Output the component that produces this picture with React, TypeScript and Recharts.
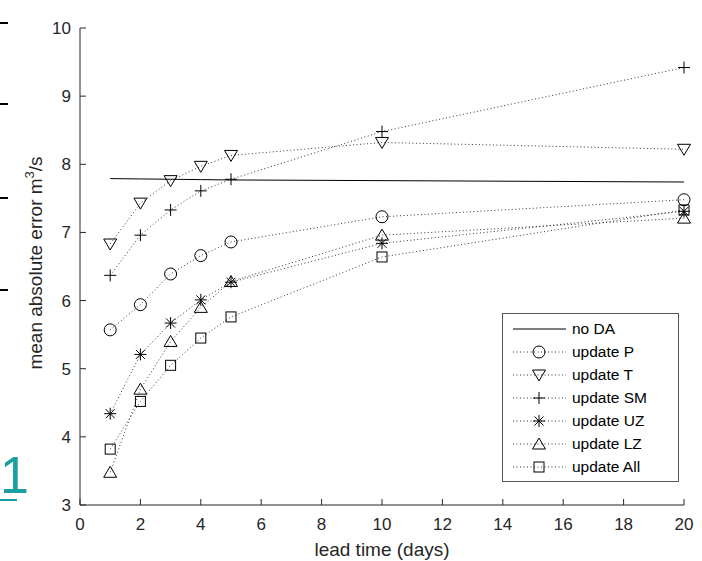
import React from 'react';
import { LineChart, Line, XAxis, YAxis, Legend } from 'recharts';

// lead times (days) and mean absolute error (m3/s) per experiment
const leadDays = [1, 2, 3, 4, 5, 10, 20];
const noDA = [7.79, 7.785, 7.78, 7.775, 7.77, 7.76, 7.74];
const updateP = [5.57, 5.94, 6.39, 6.66, 6.86, 7.23, 7.48];
const updateT = [6.83, 7.43, 7.76, 7.97, 8.13, 8.32, 8.22];
const updateSM = [6.37, 6.96, 7.33, 7.61, 7.78, 8.48, 9.42];
const updateUZ = [4.34, 5.21, 5.67, 6.01, 6.27, 6.84, 7.31];
const updateLZ = [3.48, 4.7, 5.4, 5.9, 6.28, 6.96, 7.21];
const updateAll = [3.82, 4.52, 5.05, 5.45, 5.76, 6.64, 7.33];

const xTicks = [0, 2, 4, 6, 8, 10, 12, 14, 16, 18, 20];
const yTicks = [3, 4, 5, 6, 7, 8, 9, 10];

type MarkerKind = 'none' | 'circle' | 'triDown' | 'plus' | 'star' | 'triUp' | 'square';

const series: { key: string; name: string; marker: MarkerKind; values: number[] }[] = [
    { key: 'noDA', name: 'no DA', marker: 'none', values: noDA },
    { key: 'updateP', name: 'update P', marker: 'circle', values: updateP },
    { key: 'updateT', name: 'update T', marker: 'triDown', values: updateT },
    { key: 'updateSM', name: 'update SM', marker: 'plus', values: updateSM },
    { key: 'updateUZ', name: 'update UZ', marker: 'star', values: updateUZ },
    { key: 'updateLZ', name: 'update LZ', marker: 'triUp', values: updateLZ },
    { key: 'updateAll', name: 'update All', marker: 'square', values: updateAll },
];

const data = leadDays.map((day, i) => {
    const row: Record<string, number> = { day };
    series.forEach(s => { row[s.key] = s.values[i]; });
    return row;
});

const FONT = '"Liberation Sans", Arial, Helvetica, sans-serif';
const AXIS = '#262626';
const DOTTED = '1 2.5';
const DOT_COLOR = '#333';

const Marker = ({ cx, cy, kind }: { cx: number; cy: number; kind: MarkerKind }) => {
    const s = { fill: 'none', stroke: '#000', strokeWidth: 1 };
    switch (kind) {
        case 'circle':
            return <circle cx={cx} cy={cy} r={6} {...s} />;
        case 'triDown':
            return <polygon points={`${cx - 6.5},${cy - 5} ${cx + 6.5},${cy - 5} ${cx},${cy + 6}`} {...s} />;
        case 'triUp':
            return <polygon points={`${cx - 6.5},${cy + 5} ${cx + 6.5},${cy + 5} ${cx},${cy - 6}`} {...s} />;
        case 'plus':
            return <path d={`M${cx - 6},${cy}H${cx + 6}M${cx},${cy - 6}V${cy + 6}`} {...s} />;
        case 'star':
            return (
                <path
                    d={`M${cx - 6},${cy}H${cx + 6}M${cx},${cy - 6}V${cy + 6}` +
                        `M${cx - 4.5},${cy - 4.5}L${cx + 4.5},${cy + 4.5}M${cx - 4.5},${cy + 4.5}L${cx + 4.5},${cy - 4.5}`}
                    {...s}
                />
            );
        case 'square':
            return <rect x={cx - 5} y={cy - 5} width={10} height={10} {...s} />;
        default:
            return null;
    }
};

const LegendBox = () => (
    <svg width={177} height={169} style={{ display: 'block', fontFamily: FONT }}>
        <rect x={0.5} y={0.5} width={176} height={168} fill="#fff" stroke="#555" strokeWidth={1} />
        {series.map((s, i) => {
            const y = 16 + i * 23;
            const dotted = s.marker !== 'none';
            return (
                <g key={s.key}>
                    <line x1={11} x2={64} y1={y} y2={y} stroke={dotted ? DOT_COLOR : '#000'} strokeWidth={1}
                        strokeDasharray={dotted ? DOTTED : undefined} />
                    <Marker cx={37} cy={y} kind={s.marker} />
                    <text x={70} y={y} dy="0.35em" fontSize={15.5} fill="#000">{s.name}</text>
                </g>
            );
        })}
    </svg>
);

const XTitle = () => (
    <text x={382} y={556} textAnchor="middle" fontSize={19} fill={AXIS} fontFamily={FONT}>
        lead time (days)
    </text>
);

const YTitle = () => (
    <text x={42} y={263} transform="rotate(-90 42 263)" textAnchor="middle" fontSize={19} fill={AXIS} fontFamily={FONT}>
        mean absolute error m<tspan dy={-8} fontSize={13}>3</tspan><tspan dy={8}>/s</tspan>
    </text>
);

const Title = () => (
    <text x={382} y={20} textAnchor="middle" fontSize={18.7} fontWeight="bold" fill="#000" fontFamily={FONT}>
        Main basin
    </text>
);

export default function App() {
    return (
        <div style={{ position: 'absolute', left: 0, top: 0, width: 702, height: 561, background: '#fff', fontFamily: FONT }}>
            <LineChart width={702} height={561} data={data} margin={{ top: 28, right: 18, bottom: 0, left: 0 }}>
                <XAxis
                    xAxisId="bottom"
                    dataKey="day"
                    type="number"
                    domain={[0, 20]}
                    ticks={xTicks}
                    height={56}
                    tickSize={-6}
                    tickMargin={19}
                    stroke={AXIS}
                    tick={{ fill: AXIS, fontSize: 17 }}
                    label={<XTitle />}
                />
                <XAxis
                    xAxisId="top"
                    orientation="top"
                    dataKey="day"
                    type="number"
                    domain={[0, 20]}
                    ticks={xTicks}
                    height={0}
                    tickSize={-6}
                    tickFormatter={() => ''}
                    stroke={AXIS}
                    label={<Title />}
                />
                <YAxis
                    yAxisId="left"
                    type="number"
                    domain={[3, 10]}
                    ticks={yTicks}
                    width={80}
                    tickSize={-6}
                    tickMargin={15}
                    stroke={AXIS}
                    tick={{ fill: AXIS, fontSize: 17 }}
                    label={<YTitle />}
                />
                <YAxis
                    yAxisId="right"
                    orientation="right"
                    type="number"
                    domain={[3, 10]}
                    ticks={yTicks}
                    width={0}
                    tickSize={-6}
                    tickFormatter={() => ''}
                    stroke={AXIS}
                />
                {series.map(s => (
                    <Line
                        key={s.key}
                        xAxisId="bottom"
                        yAxisId="left"
                        type="linear"
                        dataKey={s.key}
                        name={s.name}
                        stroke={s.marker === 'none' ? '#000' : DOT_COLOR}
                        strokeWidth={1}
                        strokeDasharray={s.marker === 'none' ? undefined : DOTTED}
                        isAnimationActive={false}
                        dot={s.marker === 'none' ? false : (p: any) => (
                            <Marker key={`${s.key}-${p.index}`} cx={p.cx} cy={p.cy} kind={s.marker} />
                        )}
                        activeDot={false}
                    />
                ))}
                <Legend
                    layout="vertical"
                    align="center"
                    verticalAlign="middle"
                    wrapperStyle={{ left: 502, top: 313, width: 177, height: 169 }}
                    content={() => <LegendBox />}
                />
            </LineChart>
            {/* bits of the neighbouring figure, cut off at the left edge */}
            <svg width={30} height={561} style={{ position: 'absolute', left: 0, top: 0 }}>
                <rect x={0} y={22} width={8} height={2} fill="#000" />
                <rect x={0} y={103} width={8} height={2} fill="#000" />
                <rect x={0} y={197} width={8} height={2} fill="#000" />
                <rect x={0} y={289} width={8} height={2} fill="#000" />
                <text x={0} y={493} fontSize={52} fill="#1a9e9e" fontFamily={FONT}>1</text>
                <rect x={0} y={499} width={17} height={2} fill="#1a9e9e" />
            </svg>
        </div>
    );
}
